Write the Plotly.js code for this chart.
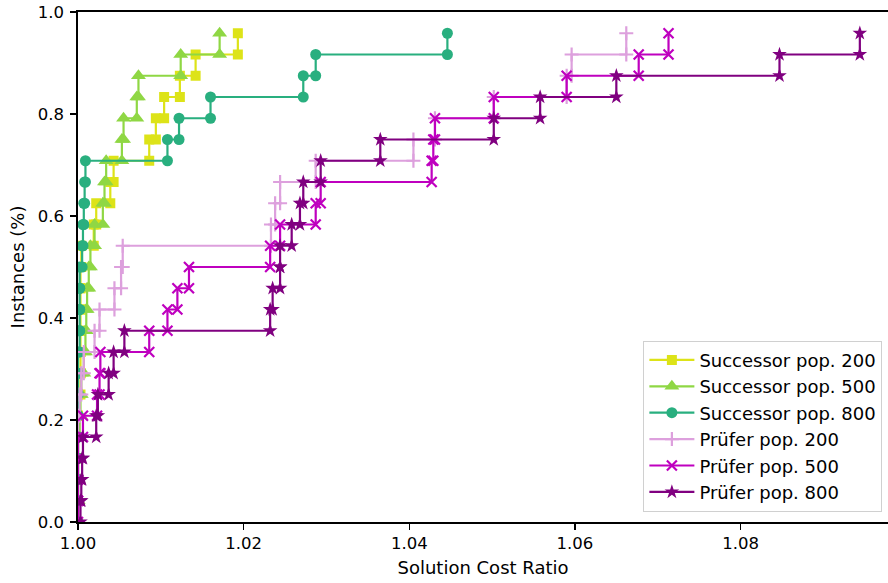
<!DOCTYPE html>
<html>
<head>
<meta charset="utf-8">
<script src="https://cdn.plot.ly/plotly-3.0.1.min.js"></script>
<style>
  html, body { margin: 0; padding: 0; background: #ffffff; }
  #chart { width: 888px; height: 583px; }
</style>
</head>
<body>
<div id="chart"></div>
<script>
// Empirical distribution of solution cost ratios over 24 instances.
// Each array holds the sorted ratios at which the cumulative share rises
// by one instance (k/24 -> (k+1)/24).
const INSTANCES = 24;

const seriesNames = [
  "Successor pop. 200", "Successor pop. 500", "Successor pop. 800",
  "Prüfer pop. 200", "Prüfer pop. 500", "Prüfer pop. 800"
];

const successor200 = [1.0, 1.0, 1.0, 1.0, 1.0, 1.0, 1.0003, 1.0003, 1.0003, 1.0003, 1.0003, 1.0003,
  1.0004, 1.0019, 1.0022, 1.0039, 1.0043, 1.0086, 1.0094, 1.0104, 1.0123, 1.0142, 1.0193];
const successor500 = [1.0, 1.0, 1.0, 1.0, 1.0002, 1.0003, 1.0004, 1.0007, 1.0009, 1.0010, 1.0011, 1.0013,
  1.0015, 1.0020, 1.0030, 1.0032, 1.0034, 1.0053, 1.0055, 1.0071, 1.0073, 1.0124, 1.0171];
const successor800 = [1.0, 1.0, 1.0, 1.0, 1.0, 1.0, 1.0, 1.0, 1.0002, 1.0002, 1.0002, 1.0002,
  1.0005, 1.0006, 1.0007, 1.0008, 1.0009, 1.0108, 1.0122, 1.0160, 1.0272, 1.0287, 1.0446];
const prufer200 = [1.0, 1.0, 1.0, 1.0, 1.0, 1.0002, 1.0004, 1.0007, 1.0020, 1.0026, 1.0044, 1.0052,
  1.0054, 1.0233, 1.0238, 1.0244, 1.0287, 1.0405, 1.0431, 1.0502, 1.0590, 1.0596, 1.0662];
const prufer500 = [1.0, 1.0, 1.0, 1.0, 1.0006, 1.0023, 1.0026, 1.0027, 1.0086, 1.0108, 1.0120, 1.0134,
  1.0232, 1.0244, 1.0287, 1.0293, 1.0427, 1.0429, 1.0431, 1.0502, 1.0590, 1.0677, 1.0713];
const prufer800 = [1.0003, 1.0004, 1.0005, 1.0006, 1.0022, 1.0024, 1.0037, 1.0043, 1.0056, 1.0232, 1.0235,
  1.0244, 1.0244, 1.0258, 1.0268, 1.0272, 1.0293, 1.0365, 1.0502, 1.0558, 1.0650, 1.0847, 1.0944];

const xTicks = [1.00, 1.02, 1.04, 1.06, 1.08];
const yTicks = [0.0, 0.2, 0.4, 0.6, 0.8, 1.0];

const seriesData = [successor200, successor500, successor800, prufer200, prufer500, prufer800];
const colors = ["#dde318", "#8fd744", "#29af7f", "#dda0dd", "#bf00bf", "#800080"];
const symbols = ["square", "triangle-up", "circle", "cross-thin", "x-thin", "star"];
const sizes = [10, 13, 11, 10, 10, 11];

// Build the staircase: a vertical rise at each ratio, joined by flat runs.
function staircase(ratios) {
  const xs = [], ys = [];
  ratios.forEach((r, k) => {
    xs.push(r, r);
    ys.push(k / INSTANCES, (k + 1) / INSTANCES);
  });
  return { xs, ys };
}

const traces = seriesData.map((ratios, i) => {
  const s = staircase(ratios);
  const thin = symbols[i].endsWith("-thin");
  return {
    type: "scatter",
    mode: "lines+markers",
    name: seriesNames[i],
    x: s.xs,
    y: s.ys,
    cliponaxis: true,
    line: { color: colors[i], width: 2.2 },
    marker: {
      symbol: symbols[i],
      size: sizes[i],
      color: colors[i],
      line: { color: colors[i], width: thin ? 2.2 : 0 }
    }
  };
});

const axisFont = { family: "DejaVu Sans, sans-serif", size: 16.5, color: "#000000" };

const layout = {
  width: 888,
  height: 583,
  margin: { l: 78, r: 0, t: 12, b: 61, pad: 0 },
  paper_bgcolor: "#ffffff",
  plot_bgcolor: "#ffffff",
  font: { family: "DejaVu Sans, sans-serif", color: "#000000" },
  showlegend: true,
  xaxis: {
    range: [1.0, 1.0978],
    tickvals: xTicks,
    ticktext: xTicks.map(v => v.toFixed(2)),
    ticks: "outside",
    ticklen: 6,
    tickwidth: 1.3,
    tickcolor: "#000000",
    tickfont: axisFont,
    showline: true,
    linecolor: "#000000",
    linewidth: 1.6,
    mirror: true,
    showgrid: false,
    zeroline: false,
    automargin: false,
    title: { text: "Solution Cost Ratio", font: { family: "DejaVu Sans, sans-serif", size: 18, color: "#000000" }, standoff: 9 }
  },
  yaxis: {
    range: [0, 1.0],
    tickvals: yTicks,
    ticktext: yTicks.map(v => v.toFixed(1)),
    ticks: "outside",
    ticklen: 6,
    tickwidth: 1.3,
    tickcolor: "#000000",
    tickfont: axisFont,
    ticklabelstandoff: 3,
    showline: true,
    linecolor: "#000000",
    linewidth: 1.6,
    showgrid: false,
    zeroline: false,
    automargin: false,
    title: { text: "Instances (%)", font: { family: "DejaVu Sans, sans-serif", size: 18, color: "#000000" }, standoff: 8 }
  },
  legend: {
    x: 0.698,
    y: 0.3555,
    xanchor: "left",
    yanchor: "top",
    bgcolor: "rgba(255,255,255,0.85)",
    bordercolor: "#d0d0d0",
    borderwidth: 1,
    itemwidth: 45,
    font: { family: "DejaVu Sans, sans-serif", size: 18, color: "#000000" }
  }
};

Plotly.newPlot("chart", traces, layout, { displayModeBar: false, staticPlot: true });
</script>
</body>
</html>
